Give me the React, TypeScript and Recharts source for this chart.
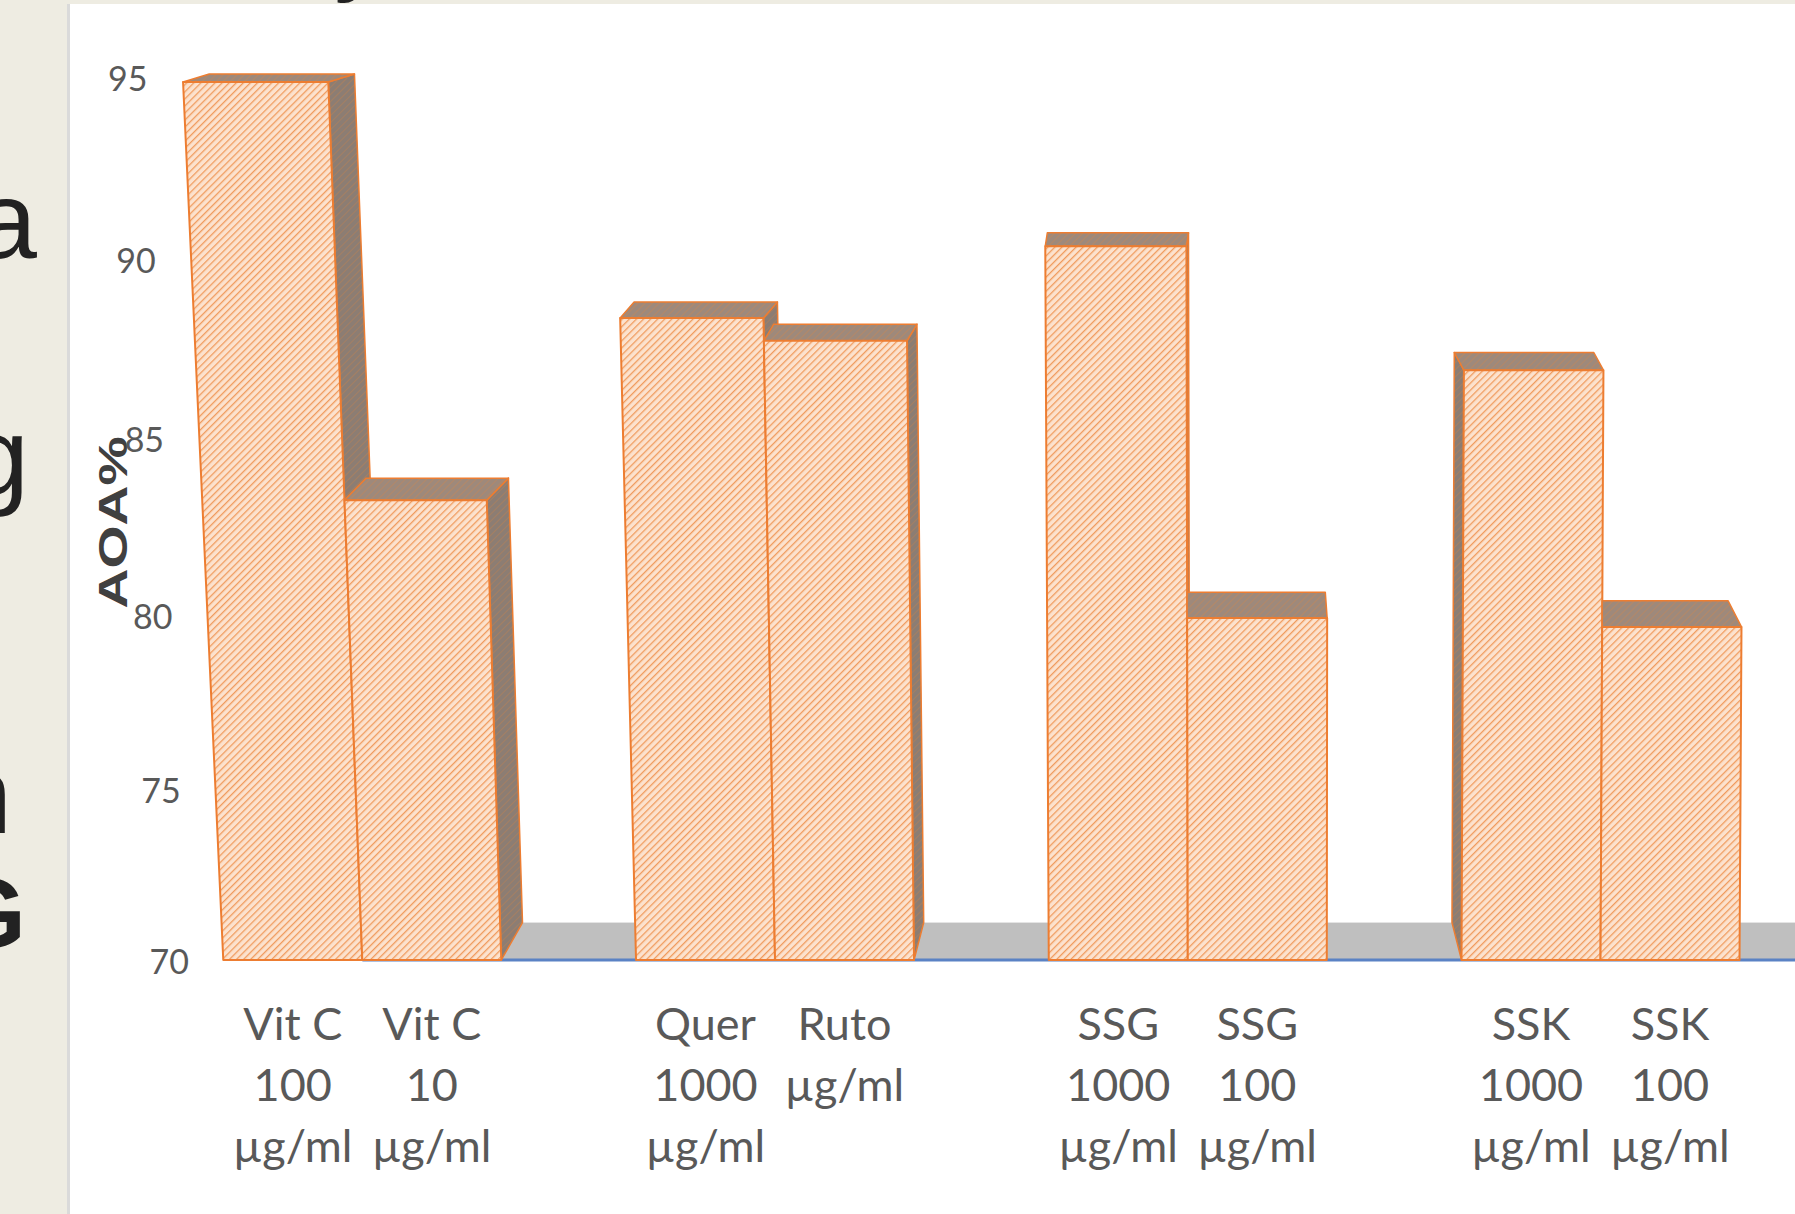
import React from 'react';
import { BarChart, Bar, XAxis, YAxis, ReferenceArea, LabelList } from 'recharts';

// values (AOA %), two doses per group
const groups = ['Vit C', 'Quer / Ruto', 'SSG', 'SSK'];
const highLabels = ['Vit C\n100\nµg/ml', 'Quer\n1000\nµg/ml', 'SSG\n1000\nµg/ml', 'SSK\n1000\nµg/ml'];
const lowLabels = ['Vit C\n10\nµg/ml', 'Ruto\nµg/ml', 'SSG\n100\nµg/ml', 'SSK\n100\nµg/ml'];
const highDose = [94.86, 88.18, 90.21, 86.7];
const lowDose = [83.02, 87.53, 79.68, 79.43];
const yTicks = [70, 75, 80, 85, 90, 95];

const data = groups.map((g, i) => ({
  group: g,
  high: highDose[i],
  low: lowDose[i],
  highLabel: highLabels[i],
  lowLabel: lowLabels[i],
}));

const CHART_W = 1830;
const CHART_H = 1214;
const PLOT_TOP = 77;
const PLOT_BOTTOM = 960;
const AXIS_W = 156;
const TICK_RIGHT = 189;

// fake 3D: vertical edges lean left going up (strong on the left, none on the right)
const tiltPts: [number, number][] = [
  [200, 0.047],
  [630, 0.025],
  [1045, 0.005],
  [1460, -0.004],
  [1760, -0.006],
];
const tiltAt = (x: number) => {
  if (x <= tiltPts[0][0]) return tiltPts[0][1];
  for (let i = 1; i < tiltPts.length; i++) {
    const [x0, k0] = tiltPts[i - 1];
    const [x1, k1] = tiltPts[i];
    if (x <= x1) return k0 + ((k1 - k0) * (x - x0)) / (x1 - x0);
  }
  return tiltPts[tiltPts.length - 1][1];
};
const lean = (x: number, y: number, base: number) => x - tiltAt(x) * (base - y);
const depthX = (x: number) => 0.028 * (1190 - x);
const depthY = (y: number) => 8 + 0.0335 * (y - 82);
// the back-wall tick labels sit a little lower than the front faces mid-way
const wallSag = (y: number) => 4.6e-5 * (y - PLOT_TOP) * (PLOT_BOTTOM - y);

const ORANGE = '#ED7D31';
const pts = (p: number[][]) => p.map((q) => q.join(',')).join(' ');

const Box3D = (props: any) => {
  const { x, y, width, height, series } = props;
  if (!height || height <= 0) return null;
  const base = y + height;
  const xl = x;
  const xr = x + width;
  const tlx = lean(xl, y, base);
  const trx = lean(xr, y, base);
  const dx = depthX((tlx + trx) / 2);
  const dy = depthY(y);
  const dxB = depthX((xl + xr) / 2);
  const dyB = depthY(base);
  const backL = series === 1 ? Math.max(tlx + dx, tlx) : tlx + dx;

  let side: number[][] | null = null;
  if (dx > 0) {
    side = [[trx, y], [trx + dx, y - dy], [xr + dxB, base - dyB], [xr, base]];
  } else if (series === 0) {
    side = [[tlx, y], [tlx + dx, y - dy], [xl + dxB, base - dyB], [xl, base]];
  }
  const top = [[tlx, y], [trx, y], [trx + dx, y - dy], [backL, y - dy]];
  const front = [[xl, base], [tlx, y], [trx, y], [xr, base]];

  return (
    <g>
      {side && <polygon points={pts(side)} fill="url(#hatchDark)" stroke={ORANGE} strokeWidth={1.5} strokeLinejoin="round" />}
      <polygon points={pts(top)} fill="url(#hatchTop)" stroke={ORANGE} strokeWidth={1.5} strokeLinejoin="round" />
      <polygon points={pts(front)} fill="url(#hatchFront)" stroke={ORANGE} strokeWidth={2} strokeLinejoin="round" />
    </g>
  );
};

const Floor = (props: any) => {
  const { x, width } = props;
  const start = x + width / (2 * groups.length);
  const h = depthY(PLOT_BOTTOM);
  return (
    <g>
      <rect x={start} y={PLOT_BOTTOM - h} width={x + width - start} height={h} fill="#BFBFBF" />
      <line x1={start} x2={x + width} y1={PLOT_BOTTOM} y2={PLOT_BOTTOM} stroke="#5A82C4" strokeWidth={3} />
    </g>
  );
};

const LeanTick = (props: any) => {
  const { y, payload } = props;
  const xr = lean(TICK_RIGHT, y, PLOT_BOTTOM);
  return (
    <text x={xr} y={y + wallSag(y)} textAnchor="end" dominantBaseline="central" fontSize={34} fontFamily="Lato" fill="#595959">
      {payload.value}
    </text>
  );
};

const barLabel = (p: any) => {
  const vb = p.viewBox ?? p;
  const x = vb.x ?? p.x;
  const w = vb.width ?? p.width;
  const cx = x + w / 2;
  const lines = String(p.value).split('\n');
  return (
    <text textAnchor="middle" fontSize={45} fontFamily="Lato" fill="#595959">
      {lines.map((l, i) => (
        <tspan key={i} x={cx} y={PLOT_BOTTOM + 80 + i * 61}>
          {l}
        </tspan>
      ))}
    </text>
  );
};

const yLabel = (p: any) => {
  const vb = p.viewBox;
  const cx = vb.x + 113;
  const cy = vb.y + vb.height / 2 + 4;
  return (
    <text
      transform={`translate(${cx},${cy}) rotate(-90) scale(1.35,1)`}
      textAnchor="middle"
      dominantBaseline="central"
      fontSize={41}
      fontWeight="bold"
      fontFamily="Liberation Sans, Arial, sans-serif"
      fill="#404040"
    >
      AOA%
    </text>
  );
};

const slideText: React.CSSProperties = {
  position: 'absolute',
  fontFamily: '"Liberation Sans", Arial, sans-serif',
  color: '#222',
  lineHeight: 1,
  whiteSpace: 'nowrap',
};

export default function App() {
  return (
    <div
      style={{
        position: 'absolute',
        left: 0,
        top: 0,
        width: 1795,
        height: 1214,
        overflow: 'hidden',
        background: '#EEECE2',
      }}
    >
      {/* bits of slide text cut off at the left edge */}
      <div style={{ ...slideText, right: 1795 - 37, top: 165, fontSize: 110 }}>a</div>
      <div style={{ ...slideText, right: 1795 - 29, top: 401, fontSize: 110 }}>g</div>
      <div style={{ ...slideText, right: 1795 - 12, top: 740, fontSize: 110 }}>n</div>
      <div style={{ ...slideText, right: 1795 - 26, top: 863, fontSize: 100, fontWeight: 'bold' }}>G</div>
      <div style={{ ...slideText, left: 334, top: -113, fontSize: 110 }}>y</div>

      <div
        style={{
          position: 'absolute',
          left: 67,
          top: 4,
          right: 0,
          bottom: 0,
          background: '#FFFFFF',
          borderLeft: '3px solid #DADADA',
        }}
      />

      <div style={{ position: 'absolute', left: 0, top: 0 }}>
        <BarChart
          width={CHART_W}
          height={CHART_H}
          data={data}
          margin={{ top: PLOT_TOP, right: CHART_W - 1807, left: 0, bottom: CHART_H - PLOT_BOTTOM }}
          barCategoryGap="16.3%"
          barGap={0}
        >
          <defs>
            <pattern id="hatchFront" width="5" height="5" patternUnits="userSpaceOnUse" patternTransform="rotate(45)">
              <rect width="5" height="5" fill="#FCE2CE" />
              <line x1="0" y1="0" x2="0" y2="5" stroke="#F09B5E" strokeWidth="2.6" />
            </pattern>
            <pattern id="hatchTop" width="5" height="5" patternUnits="userSpaceOnUse" patternTransform="rotate(45)">
              <rect width="5" height="5" fill="#9E897B" />
              <line x1="0" y1="0" x2="0" y2="5" stroke="#B38868" strokeWidth="2" />
            </pattern>
            <pattern id="hatchDark" width="5" height="5" patternUnits="userSpaceOnUse" patternTransform="rotate(45)">
              <rect width="5" height="5" fill="#8C7D73" />
              <line x1="0" y1="0" x2="0" y2="5" stroke="#A47F63" strokeWidth="2" />
            </pattern>
          </defs>
          <XAxis dataKey="group" hide />
          <YAxis
            width={AXIS_W}
            domain={[70, 95]}
            ticks={yTicks}
            axisLine={false}
            tickLine={false}
            tick={<LeanTick />}
            label={{ content: yLabel }}
          />
          <ReferenceArea y1={70} y2={71} shape={<Floor />} ifOverflow="visible" />
          <Bar dataKey="high" isAnimationActive={false} shape={(p: any) => <Box3D {...p} series={0} />}>
            <LabelList dataKey="highLabel" content={barLabel} />
          </Bar>
          <Bar dataKey="low" isAnimationActive={false} shape={(p: any) => <Box3D {...p} series={1} />}>
            <LabelList dataKey="lowLabel" content={barLabel} />
          </Bar>
        </BarChart>
      </div>
    </div>
  );
}
